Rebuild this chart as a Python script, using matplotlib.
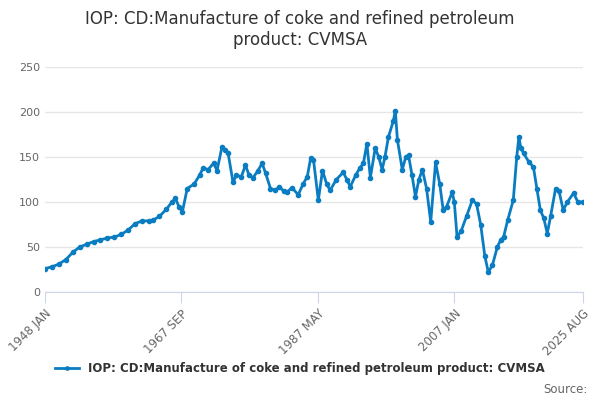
import matplotlib
matplotlib.use("Agg")
import matplotlib.pyplot as plt

years = [1948.0,1949,1950,1951,1952,1953,1954,1955,1956,1957,1958,1959,1960,1961,1962,1963,1963.6,1964.5,1965.5,1966.3,1966.8,1967.3,1967.8,1968.5,1969.5,1970.3,1970.8,1971.5,1972.3,1972.8,1973.5,1974,1974.4,1975.1,1975.6,1976.3,1976.9,1977.4,1978,1978.7,1979.3,1979.8,1980.5,1981.2,1981.8,1982.4,1982.9,1983.6,1984.5,1985.2,1985.8,1986.3,1986.7,1987.4,1988,1988.6,1989.1,1990,1991,1991.5,1992,1992.8,1993.4,1993.9,1994.4,1994.9,1995.6,1996.1,1996.6,1997,1997.5,1998.2,1998.5,1998.8,1999.5,2000,2000.4,2000.9,2001.4,2001.9,2002.4,2003,2003.6,2004.3,2004.9,2005.4,2005.9,2006.7,2007,2007.4,2008,2008.8,2009.6,2010.2,2010.8,2011.4,2011.9,2012.5,2013.2,2013.7,2014.1,2014.7,2015.5,2016,2016.3,2016.6,2017,2017.7,2018.4,2018.9,2019.4,2019.9,2020.4,2020.9,2021.6,2022.1,2022.7,2023.3,2024.2,2024.8,2025.58]
values = [26,28,31,36,44,50,53,56,58,60,61,64,69,76,79,79,80,84,92,100,104,95,89,115,120,130,138,136,143,135,161,158,154,122,130,128,141,130,127,135,143,132,115,113,117,112,111,116,108,120,128,149,147,102,135,120,113,125,133,125,117,130,138,143,165,127,160,150,136,150,172,190,201,169,136,150,152,130,106,125,136,115,78,144,120,91,95,111,100,61,68,85,102,98,75,40,22,30,50,58,61,80,102,150,172,160,154,145,139,115,91,82,65,85,115,112,91,100,110,100,100]
tick_pos = [1948.0, 1967.67, 1987.33, 2007.0, 2025.58]
tick_labels = ["1948 JAN", "1967 SEP", "1987 MAY", "2007 JAN", "2025 AUG"]
series_name = "IOP: CD:Manufacture of coke and refined petroleum product: CVMSA"

fig = plt.figure(figsize=(6, 4), dpi=100)
ax = fig.add_axes([0.075, 0.27, 0.897, 0.5625])
color = "#0a7dc2"
line, = ax.plot(years, values, color=color, lw=2, marker="o", ms=3, label=series_name)
ax.set_xlim(1948.0, 2025.58)
ax.set_ylim(0, 250)
ax.set_yticks(range(0, 251, 50))
ax.set_xticks(tick_pos)
ax.set_xticklabels(tick_labels, rotation=45, ha="right", rotation_mode="anchor")
ax.tick_params(axis="both", labelsize=8, colors="#666666", length=0)
ax.tick_params(axis="x", length=8, color="#ccd6eb", pad=3, labelsize=8.5)
ax.grid(axis="y", color="#e6e6e6", lw=1)
ax.set_axisbelow(True)
for s in ["top", "right", "left"]:
    ax.spines[s].set_visible(False)
ax.spines["bottom"].set_color("#ccd6eb")
fig.text(0.5, 0.975, "IOP: CD:Manufacture of coke and refined petroleum\nproduct: CVMSA",
         ha="center", va="top", fontsize=12, color="#333333")
fig.legend(handles=[line], loc="lower center", bbox_to_anchor=(0.5, 0.035), frameon=False,
           handlelength=2, labelcolor="#333333", markerscale=0.8,
           prop={"weight": "bold", "size": 8.5})
fig.text(0.98, 0.01, "Source:", ha="right", va="bottom", fontsize=8.5, color="#666666")
fig.savefig("out.png", dpi=100)
